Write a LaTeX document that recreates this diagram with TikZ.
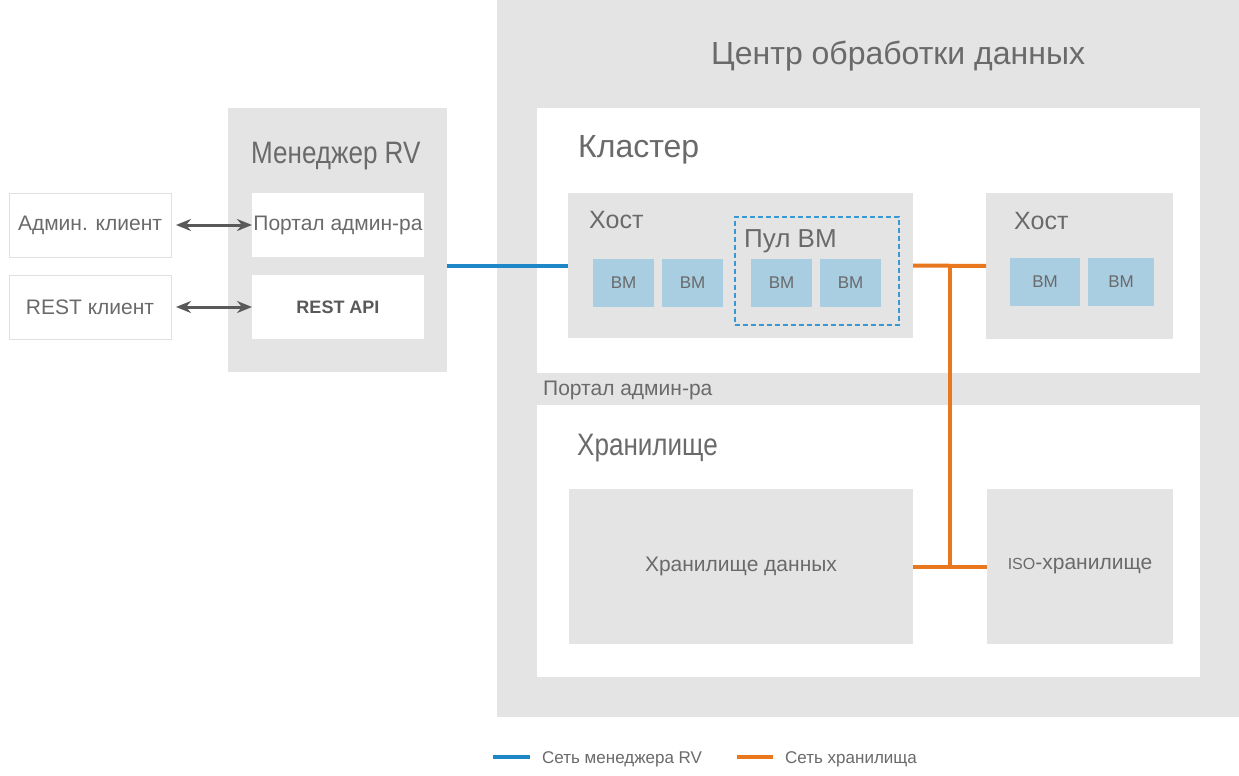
\documentclass[tikz,border=0pt]{standalone}
\usepackage{fontspec}
\setmainfont{Liberation Sans}
\newfontfamily\narrowfont[FakeStretch=0.84]{Liberation Sans}
\usetikzlibrary{arrows.meta,positioning}
\definecolor{panelgray}{HTML}{E4E4E4}
\definecolor{vmblue}{HTML}{A9CDE1}
\definecolor{inkgray}{HTML}{6A6A6A}
\definecolor{mgrblue}{HTML}{1F86C7}
\definecolor{storeorange}{HTML}{E8771E}
\definecolor{pooldash}{HTML}{3A98D0}
\definecolor{edgegray}{HTML}{E0E0E0}
\newcommand{\pxfont}[1]{\fontsize{#1}{#1}\selectfont}

\begin{document}
\begin{tikzpicture}[x=1pt, y=-1pt,
  area/.style={fill=panelgray, draw=none, inner sep=0, outer sep=0, anchor=north west},
  panel/.style={area, fill=white},
  client/.style={area, fill=white, draw=edgegray, line width=0.8pt, minimum width=162, minimum height=64, text=inkgray, font=\pxfont{21}},
  vm/.style={area, fill=vmblue, minimum width=61, minimum height=48, text=inkgray, font=\pxfont{17}},
  title/.style={text=inkgray, inner sep=0, anchor=base west},
  net/.style={line width=4pt},
  link/.style={{Stealth[length=15pt,width=12pt]}-{Stealth[length=15pt,width=12pt]}, line width=3pt, draw=black!65}
]
  \fill[white] (0,0) rectangle (1239,776);
  \useasboundingbox (0,0) rectangle (1239,776);

  % data centre
  \node[area, minimum width=742, minimum height=717] (dc) at (497,0) {};
  \node[title, font=\pxfont{32}] (dct) at (711,65) {Центр обработки данных};
  \node[panel, minimum width=663, minimum height=265] (cl) at (537,108) {};
  \node[title, font=\pxfont{32}] (clt) at (578,157) {Кластер};
  \node[title, font=\pxfont{21}] (stp) at (543,395) {Портал админ-ра};
  \node[panel, minimum width=663, minimum height=272] (st) at (537,405) {};
  \node[title, font=\narrowfont\pxfont{31}] (stt) at (577,455) {Хранилище};

  % hosts
  \node[area, minimum width=345, minimum height=145] (h1) at (568,193) {};
  \node[title, font=\pxfont{25}] (h1t) at (589,228) {Хост};
  \node[draw=pooldash, line width=1.6pt, dash pattern=on 5pt off 3pt, minimum width=164, minimum height=108, anchor=north west, inner sep=0] (pool) at (734,216) {};
  \node[title, font=\pxfont{26}] (poolt) at (744,247) {Пул ВМ};
  \node[vm] (vm1) at (593,259) {ВМ};
  \node[vm] (vm2) at (662,259) {ВМ};
  \node[vm] (vm3) at (751,259) {ВМ};
  \node[vm] (vm4) at (820,259) {ВМ};
  \node[area, minimum width=187, minimum height=146] (h2) at (986,193) {};
  \node[title, font=\pxfont{25}] (h2t) at (1014,229) {Хост};
  \node[vm, minimum width=70] (vm5) at (1010,258) {ВМ};
  \node[vm, minimum width=66] (vm6) at (1088,258) {ВМ};

  % storage
  \node[area, minimum width=344, minimum height=155, text=inkgray, font=\pxfont{21}] (ds) at (569,489) {Хранилище данных};
  \node[area, minimum width=186, minimum height=155, text=inkgray, font=\pxfont{21}] (iso) at (987,489) {{\pxfont{16}ISO}-хранилище};

  % manager
  \node[area, minimum width=219, minimum height=264] (mgr) at (228,108) {};
  \node[title, font=\narrowfont\pxfont{31}] (mgrt) at (251,163) {Менеджер RV};
  \node[area, fill=white, minimum width=172, minimum height=64, text=inkgray, font=\pxfont{21}] (portal) at (252,193) {Портал админ-ра};
  \node[area, fill=white, minimum width=172, minimum height=64, text=black!65, font=\pxfont{18}\bfseries] (api) at (252,275) {REST API};

  % clients
  \node[client] (adm) at (9,193) {Админ. клиент};
  \node[client] (rcl) at (9,275) {REST клиент};
  \draw[link] ([xshift=5pt]adm.east) -- (portal.west);
  \draw[link] ([xshift=5pt]rcl.east) -- (api.west);

  % networks
  \draw[net, mgrblue] (mgr.east |- h1.west) -- (h1.west);
  \draw[net, storeorange] (h1.east) -- (h2.west);
  \coordinate (tee) at (950,0);
  \draw[net, storeorange] (tee |- h1.east) -- (tee |- ds.east);
  \draw[net, storeorange] (ds.east) -- (iso.west);

  % legend
  \coordinate (key1) at (493,757);
  \coordinate (key2) at (737,757);
  \draw[net, mgrblue] (key1) -- ++(37,0);
  \draw[net, storeorange] (key2) -- ++(36,0);
  \node[title, font=\pxfont{17}] (key1t) at (542,763) {Сеть менеджера RV};
  \node[title, font=\pxfont{17}] (key2t) at (785,763) {Сеть хранилища};
\end{tikzpicture}
\end{document}
